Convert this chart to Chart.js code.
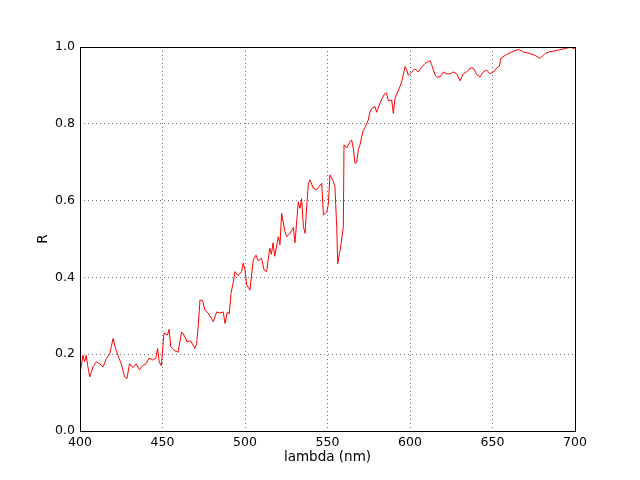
<!DOCTYPE html>
<html>
<head>
<meta charset="utf-8">
<title>R vs lambda</title>
<script src="https://cdn.jsdelivr.net/npm/chart.js@4"></script>
<style>
  body { margin: 0; background: #fff; }
  canvas { display: block; }
</style>
</head>
<body>
<canvas id="spectrumChart" width="640" height="480"></canvas>
<script>
// wavelength (nm)
const wavelength = [
  400, 401, 401.8, 402.8, 403.8, 404.8, 405.9, 407.9, 409.9, 411.9,
  414, 416, 418, 419, 420, 421.5, 423, 425, 427, 428.5,
  430, 432, 434, 436, 438, 440, 442, 444, 446, 447,
  448, 449.3, 450.9, 453, 454, 455, 457, 459.4, 461.6, 463,
  465, 467, 469.7, 470.7, 471.7, 472.7, 474.3, 475.7, 477.7, 479.7,
  480.8, 482.8, 484.8, 486.8, 487.9, 489.3, 490.5, 491.5, 493, 493.9,
  495.9, 497.9, 498.9, 500, 501, 503, 505, 506.7, 508, 510,
  511.5, 513.1, 515, 516, 517, 518, 520.2, 521.2, 522.2, 524.2,
  525.3, 527.3, 529.3, 530.3, 532.3, 533.3, 534.3, 535.4, 536.4, 537.4,
  538.4, 539.4, 541.4, 543.4, 545.5, 546.5, 547.5, 549.5, 550.5, 551.5,
  553.5, 554.5, 555.6, 556.2, 557.6, 558.6, 559.6, 560, 561.6, 563.6,
  564.6, 565.6, 566.7, 567.7, 568.7, 569.7, 570.7, 571.7, 572.7, 573.7,
  574.7, 575.8, 576.8, 578.8, 579.8, 581.8, 583, 584.8, 585.8, 586.8,
  588.9, 589.9, 590.9, 593.9, 595, 597, 598, 599, 601, 603,
  605, 607.1, 609.1, 611.1, 612.1, 613.1, 615.2, 616.2, 618.2, 620.2,
  622.2, 624.2, 626.3, 628.3, 630.3, 632.3, 634.3, 636.4, 638.4, 640.4,
  642.4, 644.4, 646.5, 648.5, 650.5, 652.5, 654.2, 655, 657.6, 660.6,
  663.6, 665.7, 668.7, 672.7, 675.8, 678.8, 681.8, 684.8, 687.9, 690.9,
  693.9, 697, 700
];

// reflectance R at each wavelength
const reflectance = [
  0.15, 0.175, 0.197, 0.18, 0.197, 0.167, 0.141, 0.167, 0.18, 0.175,
  0.167, 0.189, 0.2, 0.22, 0.241, 0.215, 0.197, 0.175, 0.141, 0.137,
  0.175, 0.165, 0.175, 0.16, 0.17, 0.175, 0.19, 0.185, 0.19, 0.215,
  0.18, 0.17, 0.255, 0.25, 0.265, 0.22, 0.21, 0.205, 0.258, 0.25,
  0.232, 0.235, 0.215, 0.228, 0.275, 0.341, 0.34, 0.315, 0.307, 0.293,
  0.285, 0.31, 0.307, 0.31, 0.28, 0.31, 0.305, 0.358, 0.39, 0.415,
  0.405, 0.415, 0.437, 0.42, 0.38, 0.367, 0.445, 0.458, 0.443, 0.45,
  0.42, 0.415, 0.476, 0.46, 0.49, 0.455, 0.506, 0.485, 0.567, 0.519,
  0.506, 0.515, 0.53, 0.49, 0.597, 0.58, 0.605, 0.532, 0.515, 0.584,
  0.645, 0.654, 0.632, 0.628, 0.64, 0.645, 0.5625, 0.57, 0.59, 0.667,
  0.65, 0.637, 0.53, 0.436, 0.47, 0.5, 0.532, 0.745, 0.737, 0.753,
  0.758, 0.737, 0.697, 0.7, 0.733, 0.745, 0.766, 0.783, 0.79, 0.8,
  0.81, 0.832, 0.84, 0.845, 0.83, 0.853, 0.866, 0.879, 0.88, 0.86,
  0.862, 0.827, 0.866, 0.897, 0.91, 0.949, 0.94, 0.926, 0.935, 0.943,
  0.935, 0.948, 0.957, 0.962, 0.965, 0.954, 0.927, 0.922, 0.922, 0.935,
  0.93, 0.93, 0.935, 0.93, 0.912, 0.93, 0.935, 0.945, 0.945, 0.928,
  0.922, 0.935, 0.94, 0.93, 0.935, 0.945, 0.95, 0.97, 0.978, 0.985,
  0.99, 0.994, 0.987, 0.983, 0.978, 0.97, 0.983, 0.988, 0.99, 0.993,
  0.996, 0.999, 0.996
];

const xTicks = [400, 450, 500, 550, 600, 650, 700];
const yTicks = [0.0, 0.2, 0.4, 0.6, 0.8, 1.0];

const points = wavelength.map((w, i) => ({ x: w, y: reflectance[i] }));

// matplotlib style frame around the plot area
const framePlugin = {
  id: "frame",
  afterDraw(chart) {
    const { ctx, chartArea: a } = chart;
    ctx.save();
    ctx.strokeStyle = "#000";
    ctx.lineWidth = 1;
    ctx.strokeRect(a.left + 0.5, a.top + 0.5, a.right - a.left, a.bottom - a.top);
    ctx.restore();
  },
};

const gridStyle = {
  color: "rgba(0,0,0,0.55)",
  lineWidth: 1,
  drawTicks: false,
};

const tickFont = { family: "DejaVu Sans", size: 12.5 };
const titleFont = { family: "DejaVu Sans", size: 13.5 };

const ctx = document.getElementById("spectrumChart").getContext("2d");
new Chart(ctx, {
  type: "line",
  data: {
    datasets: [
      {
        data: points,
        borderColor: "#ff0000",
        borderWidth: 1,
        pointRadius: 0,
        tension: 0,
        fill: false,
      },
    ],
  },
  options: {
    responsive: false,
    animation: false,
    layout: { padding: { left: 0, right: 65, top: 47, bottom: 0 } },
    plugins: { legend: { display: false }, tooltip: { enabled: false } },
    scales: {
      x: {
        type: "linear",
        min: 400,
        max: 700,
        afterBuildTicks: (s) => { s.ticks = xTicks.map((v) => ({ value: v })); },
        afterFit: (s) => { s.height = 49; },
        grid: gridStyle,
        border: { display: false, dash: [1, 3] },
        ticks: {
          color: "#000",
          padding: 4,
          maxRotation: 0,
          autoSkip: false,
          font: tickFont,
        },
        title: {
          display: true,
          text: "lambda (nm)",
          color: "#000",
          font: titleFont,
          padding: { top: 0, bottom: 14 },
        },
      },
      y: {
        min: 0,
        max: 1,
        afterBuildTicks: (s) => { s.ticks = yTicks.map((v) => ({ value: v })); },
        afterFit: (s) => { s.width = 80; },
        grid: gridStyle,
        border: { display: false, dash: [1, 3] },
        ticks: {
          color: "#000",
          padding: 5,
          callback: (v) => v.toFixed(1),
          font: tickFont,
        },
        title: {
          display: true,
          text: "R",
          color: "#000",
          font: titleFont,
          padding: { top: 35, bottom: 0 },
        },
      },
    },
  },
  plugins: [framePlugin],
});
</script>
</body>
</html>
